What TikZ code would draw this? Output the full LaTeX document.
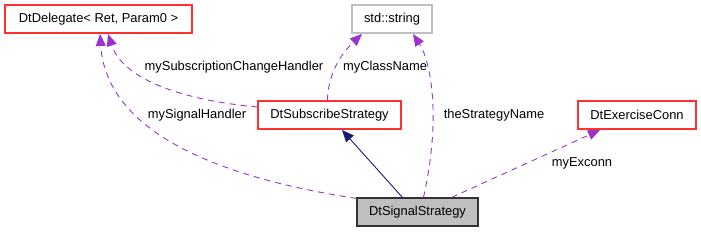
\documentclass[tikz,border=0pt]{standalone}
\usepackage{fontspec}
\setmainfont{Liberation Sans}
\usetikzlibrary{arrows.meta}
\definecolor{edgepurple}{HTML}{9A32CD}
\definecolor{navy}{HTML}{191970}
\definecolor{boxred}{HTML}{FF3030}
\definecolor{boxgray}{HTML}{BFBFBF}
\begin{document}
\begin{tikzpicture}[x=1pt,y=-1pt,
  cls/.style={draw=boxred,line width=1.1pt,minimum height=28pt,inner xsep=4pt,font=\fontsize{12.9}{14}\selectfont,anchor=center},
  ext/.style={cls,draw=boxgray},
  cur/.style={cls,draw=black!80,fill=boxgray},
  member/.style={edgepurple,dashed,dash pattern=on 6pt off 5pt,line width=0.9pt,-{Triangle[length=12pt,width=10pt]}},
  inherit/.style={navy,line width=0.9pt,-{Triangle[length=12pt,width=10pt]}},
  lbl/.style={font=\fontsize{12.9}{14}\selectfont,inner sep=0pt}]
\useasboundingbox (0,0) rectangle (701,232);
\node[cls,minimum width=187pt] (del) at (98.5,19) {DtDelegate< Ret, Param0 >};
\node[ext,minimum width=80pt] (str) at (392,19) {std::string};
\node[cls,minimum width=143pt] (sub) at (329.5,115) {DtSubscribeStrategy};
\node[cls,minimum width=118pt] (exc) at (637,115) {DtExerciseConn};
\node[cur,minimum width=121pt] (sig) at (417.5,212) {DtSignalStrategy};
\coordinate (delA) at (100,34);
\coordinate (delB) at (108,34);
\coordinate (strA) at (362,34);
\coordinate (strB) at (413,34);
\coordinate (subT) at (342,130);
\coordinate (excT) at (600,130);
\draw[inherit] (sig.north west) ++(46,0) -- (subT);
\draw[member] (sub.west) ++(0,-8) .. controls (200,102) and (125,85) .. (delB);
\draw[member] (sig.north west) ++(0,1) .. controls (170,170) and (105,110) .. (delA);
\draw[member] (sub.north west) ++(70,0) .. controls (328,70) and (345,50) .. (strA);
\draw[member] (sig.north west) ++(67,0) .. controls (442,115) and (430,60) .. (strB);
\draw[member] (sig.north west) ++(95,0) -- (excT);
\node[lbl] (l1) at (234,67) {mySubscriptionChangeHandler};
\node[lbl] (l2) at (197,115) {mySignalHandler};
\node[lbl] (l3) at (385,67) {myClassName};
\node[lbl] (l4) at (494,115) {theStrategyName};
\node[lbl] (l5) at (582,163) {myExconn};
\end{tikzpicture}
\end{document}
